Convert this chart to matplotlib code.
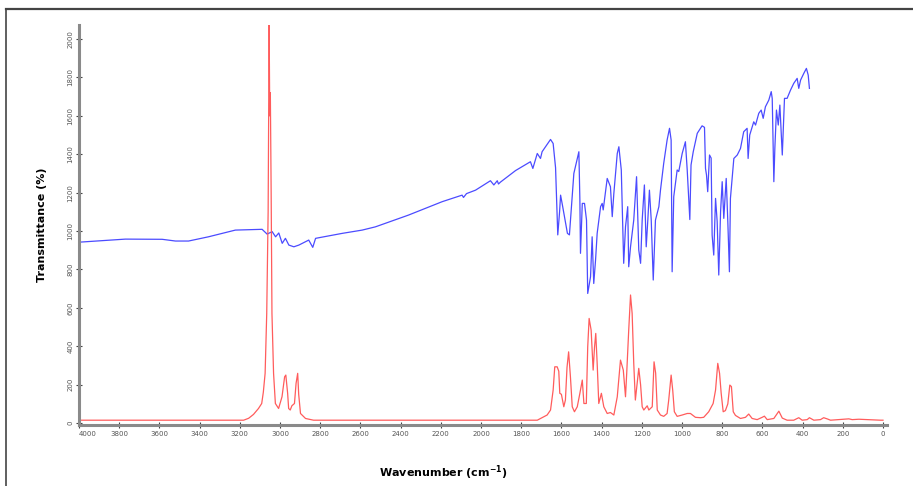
import matplotlib
matplotlib.use("Agg")
import matplotlib.pyplot as plt
from matplotlib.lines import Line2D

# ---- data ----
blue_wn = [4000, 3769, 3586, 3520, 3455, 3356, 3222, 3089, 3064, 3039, 3022, 3006, 2989,
           2973, 2956, 2931, 2906, 2857, 2837, 2823, 2690, 2591, 2525, 2361, 2193, 2094,
           2087, 2072, 2027, 1953, 1936, 1919, 1913, 1903, 1828, 1754, 1742, 1720, 1704,
           1696, 1654, 1641, 1629, 1618, 1609, 1604, 1594, 1570, 1560, 1538, 1513, 1508,
           1505, 1496, 1485, 1475, 1469, 1455, 1447, 1439, 1430, 1422, 1405, 1397, 1392,
           1372, 1356, 1347, 1339, 1322, 1314, 1309, 1302, 1290, 1281, 1270, 1265, 1256,
           1240, 1226, 1215, 1206, 1198, 1187, 1178, 1170, 1162, 1153, 1143, 1132, 1115,
           1107, 1091, 1074, 1062, 1054, 1049, 1041, 1024, 1016, 999, 983, 974, 961, 955,
           944, 924, 908, 900, 888, 883, 878, 872, 863, 855, 850, 842, 833, 825, 817, 808,
           800, 792, 780, 772, 764, 759, 742, 725, 709, 693, 676, 671, 663, 643, 634, 618,
           606, 596, 585, 568, 556, 551, 543, 538, 530, 521, 513, 501, 490, 477, 460, 444,
           427, 419, 410, 394, 381, 372, 366]
blue_val = [942, 958, 957, 948, 948, 970, 1005, 1009, 984, 997, 970, 990, 936,
            962, 927, 918, 927, 953, 915, 962, 988, 1005, 1022, 1083, 1153, 1187,
            1175, 1195, 1213, 1262, 1240, 1262, 1245, 1255, 1315, 1361, 1326, 1404, 1378,
            1413, 1477, 1456, 1330, 980, 1100, 1187, 1130, 988, 980, 1300, 1413, 1161,
            884, 1144, 1144, 1057, 675, 762, 970, 727, 849, 988, 1127, 1144, 1110,
            1274, 1231, 1075, 1196, 1404, 1439, 1390, 1318, 832, 1022, 1127, 814, 918,
            1057, 1283, 901, 832, 1057, 1240, 918, 1057, 1213, 1057, 745, 1057, 1127,
            1213, 1352, 1474, 1535, 1474, 788, 1179, 1318, 1310, 1404, 1465, 1318, 1060, 1344,
            1413, 1509, 1535, 1548, 1540, 1326, 1292, 1205, 1396, 1380, 979, 875, 1170, 1050, 771, 1100,
            1257, 1066, 1274, 1050, 788, 1170, 1378, 1396, 1430, 1517, 1535, 1378, 1500, 1569, 1552, 1613,
            1630, 1587, 1647, 1682, 1726, 1690, 1257, 1430, 1630, 1552, 1656, 1396, 1691, 1691, 1734, 1769,
            1795, 1743, 1786, 1821, 1847, 1812, 1743]

red_wn = [4000, 3181, 3156, 3132, 3107, 3091, 3083, 3074, 3066, 3059, 3054, 3051, 3048,
          3044, 3040, 3032, 3023, 3007, 2990, 2977, 2971, 2962, 2957, 2949, 2941, 2928,
          2920, 2912, 2907, 2898, 2873, 2833, 1720, 1671, 1654, 1641, 1633, 1621, 1613,
          1608, 1600, 1588, 1580, 1572, 1564, 1555, 1546, 1535, 1521, 1508, 1496, 1488,
          1476, 1469, 1462, 1452, 1442, 1435, 1429, 1422, 1414, 1401, 1389, 1372, 1356,
          1339, 1322, 1306, 1292, 1281, 1275, 1265, 1256, 1248, 1240, 1232, 1224, 1215,
          1206, 1198, 1190, 1173, 1165, 1148, 1139, 1131, 1123, 1107, 1091, 1074, 1066,
          1054, 1046, 1038, 1024, 999, 974, 958, 933, 908, 892, 867, 845, 833, 822, 813,
          805, 795, 784, 772, 762, 754, 745, 734, 709, 684, 668, 651, 626, 601, 590, 576,
          543, 518, 501, 477, 444, 419, 402, 377, 366, 344, 311, 295, 278, 261, 170, 153,
          120, 79, 12, 0]
red_val = [15, 15, 25, 45, 76, 102, 160, 259, 571, 1100, 2075, 1600, 1720,
           1200, 571, 259, 102, 76, 137, 241, 250, 155, 76, 68, 90, 102,
           207, 259, 150, 50, 24, 15, 15, 42, 68, 172, 293, 293, 270,
           155, 150, 85, 120, 290, 371, 241, 85, 59, 85, 155, 224, 102,
           102, 397, 545, 484, 276, 397, 467, 311, 102, 155, 85, 50, 55,
           42, 137, 328, 276, 137, 260, 484, 667, 571, 311, 120, 200, 285,
           200, 85, 68, 90, 68, 85, 319, 260, 68, 42, 35, 50, 120,
           250, 170, 59, 35, 42, 50, 50, 30, 28, 30, 59, 102, 172, 311, 259,
           155, 59, 65, 100, 198, 190, 59, 40, 24, 30, 47, 24, 18, 30, 36, 18,
           24, 62, 26, 15, 15, 28, 15, 18, 28, 15, 18, 28, 22, 15, 22, 18,
           20, 18, 15, 15]

x_ticks = list(range(4000, -1, -200))
y_ticks = list(range(0, 2001, 200))

# ---- figure ----
W, H = 913, 486
fig = plt.figure(figsize=(W / 100, H / 100), dpi=100)
fig.patch.set_facecolor("white")

# outer frame (top and left lines)
fig.add_artist(Line2D([6 / W, 1.0], [1 - 9 / H, 1 - 9 / H], transform=fig.transFigure,
                      color="#444444", lw=1.6))
fig.add_artist(Line2D([6 / W, 6 / W], [0.0, 1 - 9 / H], transform=fig.transFigure,
                      color="#444444", lw=1.2))

ax = fig.add_axes([79 / W, (H - 425) / H, (887 - 79) / W, (425 - 25) / H])
ax.plot(blue_wn, blue_val, color="#4b4bff", lw=0.9)
ax.plot(red_wn, red_val, color="#ff5c5c", lw=0.9)

ax.set_xlim(4000, -20)
ax.set_ylim(-10, 2073)

for s in ("top", "right"):
    ax.spines[s].set_visible(False)
for s in ("left", "bottom"):
    ax.spines[s].set_color("#8a8a8a")
    ax.spines[s].set_linewidth(2.2)

ax.set_xticks(x_ticks)
ax.set_xticklabels([str(t) for t in x_ticks])
ax.set_yticks(y_ticks)
ax.set_yticklabels([str(t) for t in y_ticks], rotation=90, va="center")
ax.tick_params(axis="both", direction="inout", length=4, width=0.8, color="#444444",
               labelsize=5, labelcolor="#555555", pad=2)
ax.get_xticklabels()[0].set_horizontalalignment("left")

ax.set_xlabel("Wavenumber (cm$^{\\mathbf{-1}}$)", fontsize=8, fontweight="bold")
ax.xaxis.set_label_coords((443 - 79) / 808, -0.095)
ax.set_ylabel("Transmittance (%)", fontsize=8, fontweight="bold")
ax.yaxis.set_label_coords((47 - 79) / 808, 0.5)

fig.savefig("out.png", dpi=100)
